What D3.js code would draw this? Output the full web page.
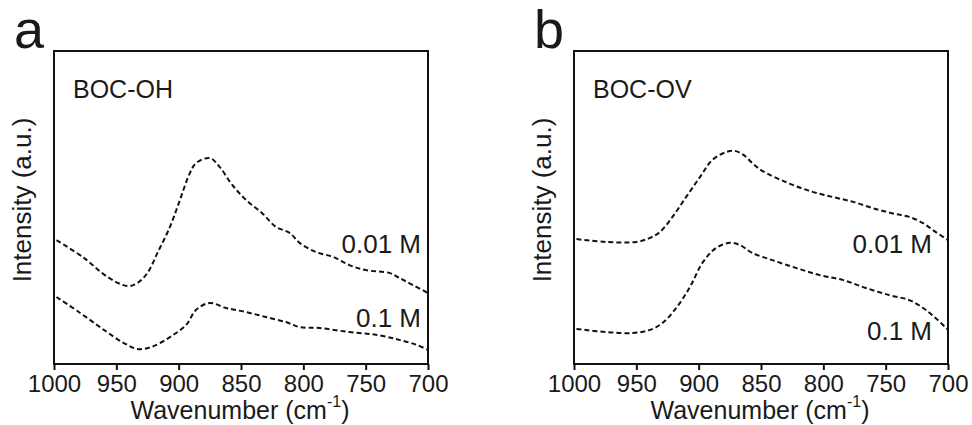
<!DOCTYPE html>
<html><head><meta charset="utf-8">
<script src="https://cdn.jsdelivr.net/npm/d3@7"></script>
<style>body{margin:0;background:#fff}svg{display:block}text{font-family:"Liberation Sans",Arial,sans-serif;fill:#1a1a1a}</style>
</head><body><svg id="c" width="972" height="425"></svg>
<script>
// Wavenumber ticks
const xTicks = [1000, 950, 900, 850, 800, 750, 700];

// Panel a: BOC-OH
const ohWn01 = [998,976,957,941,933,925,917,907,899,891,886,875,867,857,846,833,822,811,803,790,776,763,750,731,723,712,700];
const ohI001 = [39.6,33.9,27.8,24.9,25.9,29.1,35.5,43.8,52.4,61.0,64.2,65.8,62.9,57.2,52.4,48.2,43.8,41.9,38.7,35.8,34.2,31.6,30.0,29.1,27.5,25.2,22.7];
const ohWn1 = [998,979,960,944,933,922,907,894,886,875,862,846,830,814,803,787,763,741,723,709,700];
const ohI01 = [21.4,16.3,10.9,6.7,4.8,5.4,8.6,12.5,17.3,19.5,17.9,16.6,15.0,13.4,11.8,11.5,10.2,9.3,7.7,6.1,4.5];

// Panel b: BOC-OV
const ovWn01 = [998,974,950,939,931,921,910,899,889,878,871,864,857,849,830,811,793,776,758,742,731,720,710,700];
const ovI001 = [39.9,39.0,39.0,40.3,42.2,47.0,53.4,59.7,65.2,67.7,68.1,66.8,64.2,61.7,58.1,55.3,53.4,51.8,49.5,47.9,47.0,45.0,42.2,39.6];
const ovWn1 = [998,974,953,939,929,918,907,897,886,875,867,857,841,822,803,784,766,747,731,720,710,700];
const ovI01 = [11.2,10.2,9.9,10.9,13.1,17.9,24.6,32.3,37.1,38.7,38.0,35.5,33.2,30.7,28.4,26.8,24.3,22.0,20.4,17.9,14.7,10.9];

const panels = [
  {letter:"a", name:"BOC-OH", x0:54, series:[
     {wn:ohWn01, v:ohI001, label:"0.01 M", lx:421, ly:253},
     {wn:ohWn1, v:ohI01, label:"0.1 M", lx:421, ly:327}]},
  {letter:"b", name:"BOC-OV", x0:574, series:[
     {wn:ovWn01, v:ovI001, label:"0.01 M", lx:932, ly:253},
     {wn:ovWn1, v:ovI01, label:"0.1 M", lx:932, ly:340}]}
];

const svg = d3.select("#c");
const W = 374, plotTop = 51, plotBottom = 364;

panels.forEach(p => {
  const g = svg.append("g");
  const x = d3.scaleLinear().domain([1000,700]).range([p.x0, p.x0+W]);
  const y = d3.scaleLinear().domain([0,100]).range([plotBottom, plotTop]);

  const line = d3.line().x(d=>x(d[0])).y(d=>y(d[1])).curve(d3.curveCatmullRom);
  p.series.forEach(s => {
    g.append("path").datum(s.wn.map((w,i)=>[w,s.v[i]]))
      .attr("d", line).attr("fill","none").attr("stroke","#111")
      .attr("stroke-width",2).attr("stroke-dasharray","5,3");
    g.append("text").attr("x", s.lx).attr("y", s.ly).attr("text-anchor","end")
      .attr("font-size",26).text(s.label);
  });

  g.append("rect").attr("x",p.x0).attr("y",plotTop).attr("width",W).attr("height",plotBottom-plotTop)
    .attr("fill","none").attr("stroke","#111").attr("stroke-width",2);

  const ax = g.append("g").attr("transform",`translate(0,${plotBottom})`)
    .call(d3.axisBottom(x).tickValues(xTicks).tickSize(6).tickPadding(5).tickFormat(d3.format("d")));
  ax.select(".domain").remove();
  ax.selectAll("line").attr("stroke","#111").attr("stroke-width",2);
  ax.selectAll("text").attr("font-size",24).attr("fill","#1a1a1a").attr("font-family",'"Liberation Sans",Arial,sans-serif');

  const xt = g.append("text").attr("x", p.x0+W/2 - 1).attr("y",419).attr("text-anchor","middle").attr("font-size",25);
  xt.append("tspan").text("Wavenumber (cm");
  xt.append("tspan").attr("font-size",16).attr("dy",-12).text("-1");
  xt.append("tspan").attr("dy",12).text(")");

  g.append("text").attr("transform",`translate(${p.x0-23},${200}) rotate(-90)`)
    .attr("text-anchor","middle").attr("font-size",26).text("Intensity (a.u.)");

  g.append("text").attr("x",p.x0-40).attr("y",48).attr("font-size",54).text(p.letter);
  g.append("text").attr("x",p.x0+19).attr("y",98).attr("font-size",25).text(p.name);
});
</script></body></html>
